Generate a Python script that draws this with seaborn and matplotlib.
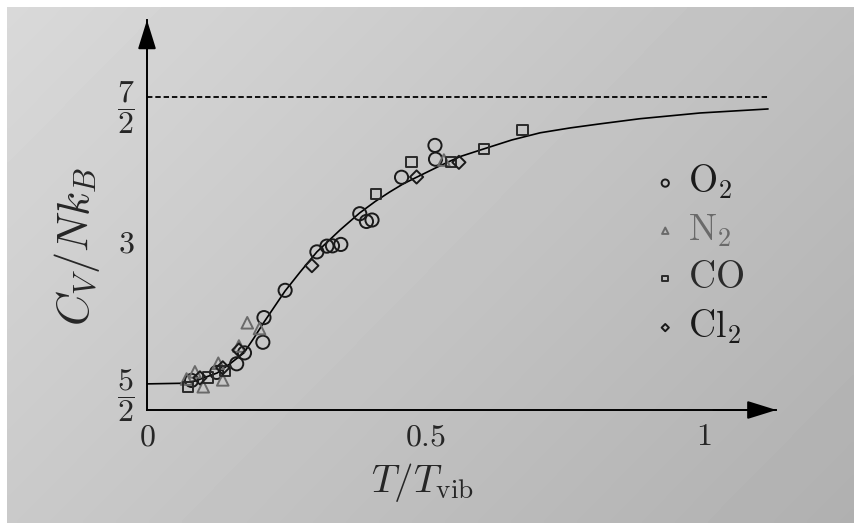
import numpy as np
import pandas as pd
import seaborn as sns
from matplotlib import pyplot as plt

# values (T/T_vib, C_V/Nk_B)
o2_t = [0.080, 0.125, 0.161, 0.175, 0.208, 0.210, 0.248, 0.305, 0.323, 0.333, 0.348, 0.382, 0.394, 0.404, 0.457, 0.517, 0.518]
o2_c = [2.512, 2.540, 2.570, 2.608, 2.645, 2.731, 2.826, 2.960, 2.980, 2.981, 2.986, 3.093, 3.066, 3.071, 3.220, 3.331, 3.283]

n2_t = [0.071, 0.086, 0.101, 0.128, 0.136, 0.165, 0.180, 0.202, 0.533]
n2_c = [2.517, 2.542, 2.490, 2.572, 2.514, 2.632, 2.713, 2.693, 3.280]

co_t = [0.074, 0.110, 0.140, 0.411, 0.475, 0.546, 0.605, 0.674]
co_c = [2.490, 2.522, 2.545, 3.162, 3.274, 3.274, 3.318, 3.385]

cl2_t = [0.095, 0.136, 0.165, 0.296, 0.484, 0.560]
cl2_c = [2.521, 2.556, 2.618, 2.912, 3.221, 3.272]

curve_t = [0, 0.059, 0.086, 0.126, 0.149, 0.174, 0.192, 0.210, 0.248, 0.275, 0.305, 0.347,
           0.382, 0.410, 0.436, 0.460, 0.485, 0.526, 0.562, 0.605, 0.655, 0.706, 0.760,
           0.813, 0.885, 0.993, 1.115]
curve_c = [2.5, 2.502, 2.510, 2.538, 2.570, 2.608, 2.660, 2.715, 2.824, 2.890, 2.960, 3.037,
           3.096, 3.136, 3.169, 3.197, 3.221, 3.260, 3.292, 3.319, 3.350, 3.375, 3.392,
           3.406, 3.424, 3.444, 3.458]

x_ticks = [0, 0.5, 1]
x_ticklabels = ['$0$', '$0.5$', '$1$']
y_ticks = [2.5, 3, 3.5]
y_ticklabels = [r'$\dfrac{5}{2}$', '$3$', r'$\dfrac{7}{2}$']

gases = [
    ('$\\mathrm{O}_2$', o2_t, o2_c, 'o', '#1a1a1a', 90),
    ('$\\mathrm{N}_2$', n2_t, n2_c, '^', '#6a6a6a', 70),
    ('$\\mathrm{CO}$', co_t, co_c, 's', '#2a2a2a', 55),
    ('$\\mathrm{Cl}_2$', cl2_t, cl2_c, 'D', '#1a1a1a', 45),
]

sns.set_style('white')
plt.rcParams['mathtext.fontset'] = 'cm'
plt.rcParams['font.family'] = ['DejaVu Serif']

fig = plt.figure(figsize=(8.59, 5.23), dpi=100)
fig.patch.set_facecolor('white')

# photographed paper background
bg = fig.add_axes([0.008, 0.0, 0.986, 0.987], zorder=-5)
gx, gy = np.meshgrid(np.linspace(0, 1, 200), np.linspace(0, 1, 120))
shade = 0.85 - 0.10 * gx - 0.06 * gy
bg.imshow(shade, cmap='gray', vmin=0, vmax=1, aspect='auto', interpolation='bilinear')
bg.axis('off')

ax = fig.add_axes([147 / 859, 113 / 523, 629.4 / 859, 390 / 523])
ax.set_facecolor('none')

sns.lineplot(x=curve_t, y=curve_c, color='k', lw=1.2, estimator=None, ax=ax)
ax.axhline(3.5, xmin=0, xmax=1.115 / 1.13, color='k', lw=1.3, ls=(0, (3, 1.6)))

for name, t, c, m, col, s in gases:
    sns.scatterplot(x=t, y=c, marker=m, s=s, facecolor='none', edgecolor=col,
                    linewidth=1.4, label=name, ax=ax, zorder=3)

ax.set_xlim(0, 1.13)
ax.set_ylim(2.409, 3.768)
ax.set_xticks(x_ticks)
ax.set_xticklabels(x_ticklabels)
ax.set_yticks(y_ticks)
ax.set_yticklabels(y_ticklabels)
ax.tick_params(axis='x', direction='in', length=13, width=1.4, pad=8, labelsize=23)
ax.tick_params(axis='y', direction='in', length=16, width=1.4, pad=9, labelsize=23)
ax.xaxis.get_major_ticks()[0].tick1line.set_visible(False)

for side in ['top', 'right']:
    ax.spines[side].set_visible(False)
for side in ['left', 'bottom']:
    ax.spines[side].set_linewidth(1.4)
    ax.spines[side].set_color('k')

arrow = dict(arrowstyle='-|>,head_length=0.9,head_width=0.28', color='k', lw=1.4,
             mutation_scale=20, shrinkA=0, shrinkB=0)
ax.annotate('', xy=(0, 1), xytext=(0, 0.9), xycoords='axes fraction', arrowprops=arrow)
ax.annotate('', xy=(1, 0), xytext=(0.9, 0), xycoords='axes fraction', arrowprops=arrow)

ax.set_xlabel(r'$T/T_{\mathrm{vib}}$', fontsize=28)
ax.set_ylabel(r'$C_V/Nk_B$', fontsize=32)
ax.xaxis.set_label_coords(0.437, -0.13)
ax.yaxis.set_label_coords(-0.072, 0.42)

leg = ax.legend(loc='upper left', bbox_to_anchor=(0.74, 0.72), frameon=False,
                fontsize=27, markerscale=0.55, handletextpad=0.1, labelspacing=0.3,
                handlelength=1.0)
for text, (name, t, c, m, col, s) in zip(leg.get_texts(), gases):
    text.set_color(col)

fig.savefig('out.png', dpi=100)
